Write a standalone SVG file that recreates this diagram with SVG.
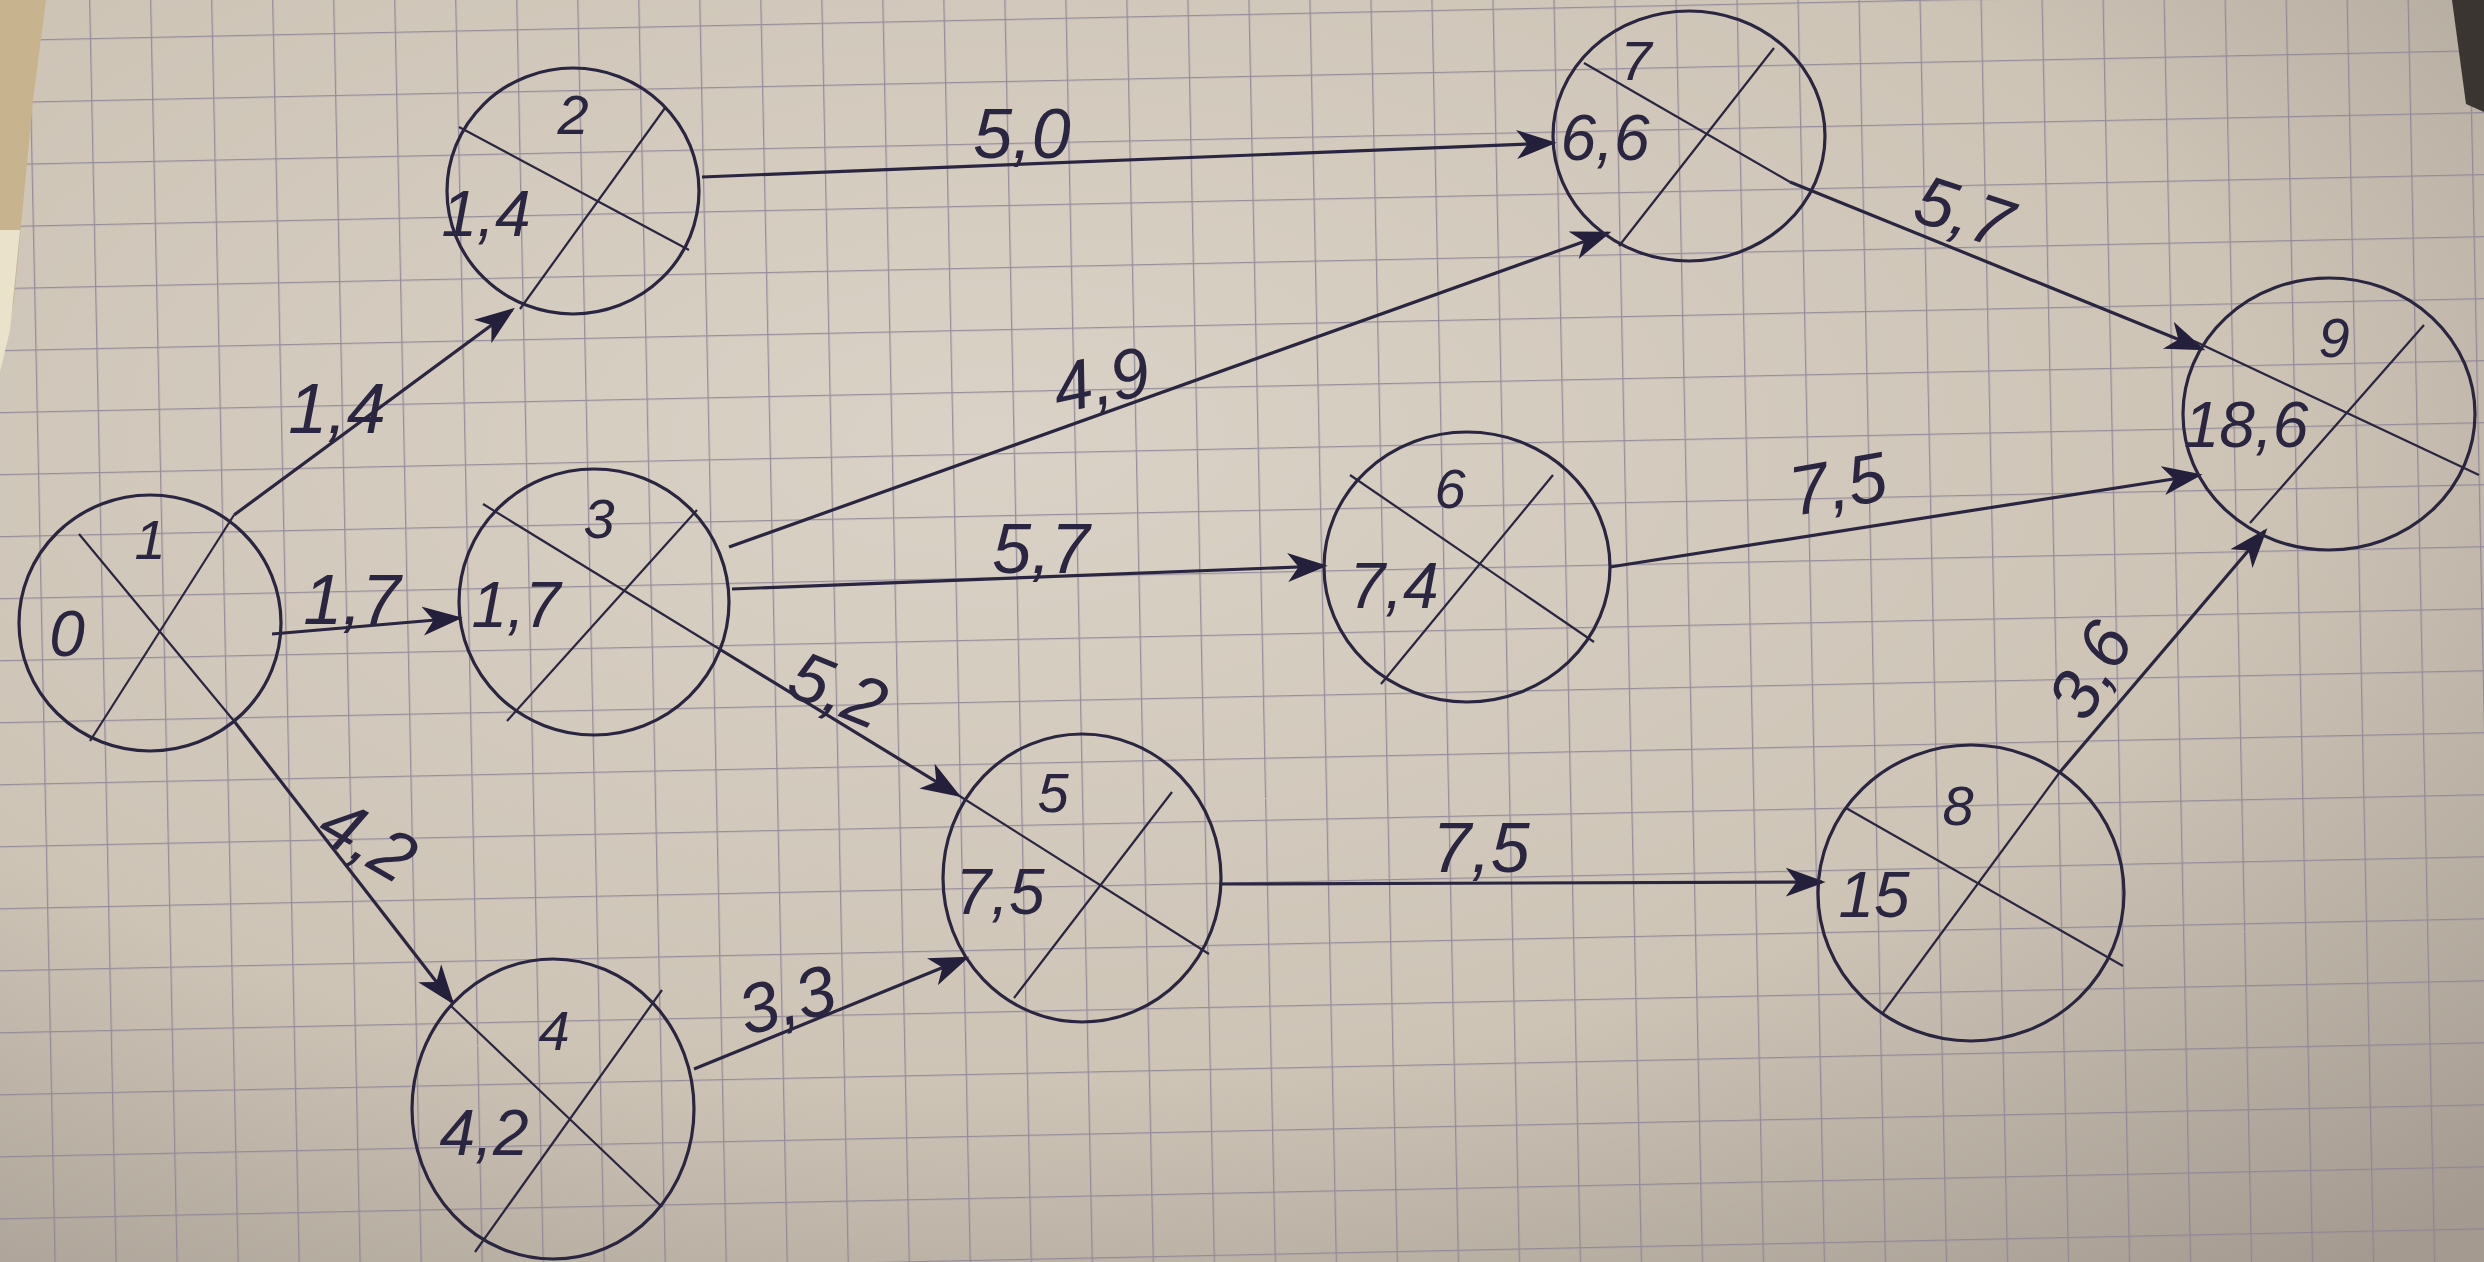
<svg xmlns="http://www.w3.org/2000/svg" width="2484" height="1262" viewBox="0 0 2484 1262">
<defs>
<radialGradient id="paper" cx="0.4" cy="0.35" r="0.85">
<stop offset="0" stop-color="#dad2c6"/>
<stop offset="0.6" stop-color="#cdc4b6"/>
<stop offset="1" stop-color="#a49a90"/>
</radialGradient>
<pattern id="grid" width="61" height="62" patternUnits="userSpaceOnUse" patternTransform="rotate(-1.2) translate(28 40)">
<path d="M0,0 V62 M0,0 H61" fill="none" stroke="#8c8398" stroke-width="2.6" stroke-opacity="0.85"/>
</pattern>
<marker id="ah" viewBox="0 0 22 16" refX="20" refY="8" markerWidth="40" markerHeight="30" markerUnits="userSpaceOnUse" orient="auto">
<path d="M0,0 L22,8 L0,16 L6,8 Z" fill="#241f3a"/>
</marker>
<style>
.ring{fill:none;stroke:#2a2540;stroke-width:3.2}
.diag{fill:none;stroke:#2a2540;stroke-width:2.2}
.edge{fill:none;stroke:#2a2540;stroke-width:3.2;marker-end:url(#ah)}
.t{font-family:"Liberation Sans",Arial,sans-serif;font-style:italic;fill:#2a2540;text-anchor:middle;dominant-baseline:central}
.num{font-size:56px}
.val{font-size:64px}
.lab{font-size:70px}
</style>
</defs>
<rect x="0" y="0" width="2484" height="1262" fill="url(#paper)"/>
<rect x="0" y="0" width="2484" height="1262" fill="url(#grid)"/>
<path d="M0,0 L46,0 L33,100 L14,300 L0,372 Z" fill="#c7b48f"/>
<path d="M0,230 L20,230 L10,330 L0,372 Z" fill="#ebe2cc"/>
<path d="M2452,0 L2484,0 L2484,112 L2466,104 Z" fill="#3b3532"/>

<g id="connectors">
<line class="edge" x1="234" y1="515" x2="512" y2="310"/>
<line class="edge" x1="272" y1="634" x2="459" y2="618"/>
<line class="edge" x1="234" y1="721" x2="452" y2="1002"/>
<line class="edge" x1="702" y1="177" x2="1553" y2="143"/>
<line class="edge" x1="729" y1="547" x2="1608" y2="233"/>
<line class="edge" x1="732" y1="589" x2="1324" y2="566"/>
<line class="edge" x1="721" y1="650" x2="958" y2="795"/>
<line class="edge" x1="694" y1="1069" x2="966" y2="958"/>
<line class="edge" x1="1790" y1="182" x2="2202" y2="349"/>
<line class="edge" x1="1610" y1="567" x2="2199" y2="475"/>
<line class="edge" x1="1221" y1="884" x2="1822" y2="882"/>
<line class="edge" x1="2060" y1="772" x2="2265" y2="531"/>
<text class="t lab" x="337" y="409">1,4</text>
<text class="t lab" x="352" y="600">1,7</text>
<text class="t lab" x="368" y="840" transform="rotate(30 368 840)">4,2</text>
<text class="t lab" x="1022" y="134">5,0</text>
<text class="t lab" x="1101" y="380" transform="rotate(-12 1101 380)">4,9</text>
<text class="t lab" x="1041" y="549">5,7</text>
<text class="t lab" x="838" y="690" transform="rotate(22 838 690)">5,2</text>
<text class="t lab" x="787" y="1000" transform="rotate(-15 787 1000)">3,3</text>
<text class="t lab" x="1964" y="212" transform="rotate(18 1964 212)">5,7</text>
<text class="t lab" x="1838" y="484" transform="rotate(-10 1838 484)">7,5</text>
<text class="t lab" x="1481" y="848">7,5</text>
<text class="t lab" x="2090" y="670" transform="rotate(-60 2090 670)">3,6</text>
</g>

<g id="node1">
<ellipse class="ring" cx="150" cy="623" rx="131" ry="128"/>
<line class="diag" x1="79" y1="534" x2="234" y2="721"/>
<line class="diag" x1="90" y1="741" x2="234" y2="515"/>
<text class="t num" x="150" y="539">1</text>
<text class="t val" x="67" y="634">0</text>
</g>
<g id="node2">
<ellipse class="ring" cx="573" cy="191" rx="126" ry="123"/>
<line class="diag" x1="459" y1="127" x2="689" y2="250"/>
<line class="diag" x1="520" y1="309" x2="665" y2="108"/>
<text class="t num" x="573" y="114">2</text>
<text class="t val" x="486" y="214">1,4</text>
</g>
<g id="node3">
<ellipse class="ring" cx="594" cy="602" rx="135" ry="133"/>
<line class="diag" x1="483" y1="504" x2="721" y2="650"/>
<line class="diag" x1="507" y1="721" x2="697" y2="510"/>
<text class="t num" x="599" y="518">3</text>
<text class="t val" x="516" y="605">1,7</text>
</g>
<g id="node4">
<ellipse class="ring" cx="553" cy="1109" rx="141" ry="150"/>
<line class="diag" x1="451" y1="1006" x2="662" y2="1207"/>
<line class="diag" x1="475" y1="1252" x2="662" y2="990"/>
<text class="t num" x="554" y="1030">4</text>
<text class="t val" x="484" y="1133">4,2</text>
</g>
<g id="node5">
<ellipse class="ring" cx="1082" cy="878" rx="139" ry="144"/>
<line class="diag" x1="958" y1="795" x2="1209" y2="954"/>
<line class="diag" x1="1014" y1="998" x2="1172" y2="792"/>
<text class="t num" x="1053" y="792">5</text>
<text class="t val" x="1000" y="892">7,5</text>
</g>
<g id="node6">
<ellipse class="ring" cx="1467" cy="567" rx="143" ry="135"/>
<line class="diag" x1="1350" y1="475" x2="1594" y2="642"/>
<line class="diag" x1="1381" y1="684" x2="1553" y2="475"/>
<text class="t num" x="1450" y="488">6</text>
<text class="t val" x="1394" y="586">7,4</text>
</g>
<g id="node7">
<ellipse class="ring" cx="1689" cy="136" rx="136" ry="125"/>
<line class="diag" x1="1584" y1="63" x2="1790" y2="182"/>
<line class="diag" x1="1619" y1="246" x2="1774" y2="48"/>
<text class="t num" x="1636" y="60">7</text>
<text class="t val" x="1605" y="138">6,6</text>
</g>
<g id="node8">
<ellipse class="ring" cx="1971" cy="893" rx="153" ry="148"/>
<line class="diag" x1="1846" y1="808" x2="2123" y2="966"/>
<line class="diag" x1="1882" y1="1014" x2="2060" y2="772"/>
<text class="t num" x="1958" y="805">8</text>
<text class="t val" x="1874" y="895">15</text>
</g>
<g id="node9">
<ellipse class="ring" cx="2329" cy="414" rx="146" ry="136"/>
<line class="diag" x1="2194" y1="341" x2="2479" y2="475"/>
<line class="diag" x1="2250" y1="523" x2="2424" y2="325"/>
<text class="t num" x="2334" y="337">9</text>
<text class="t val" x="2246" y="425">18,6</text>
</g>
</svg>
